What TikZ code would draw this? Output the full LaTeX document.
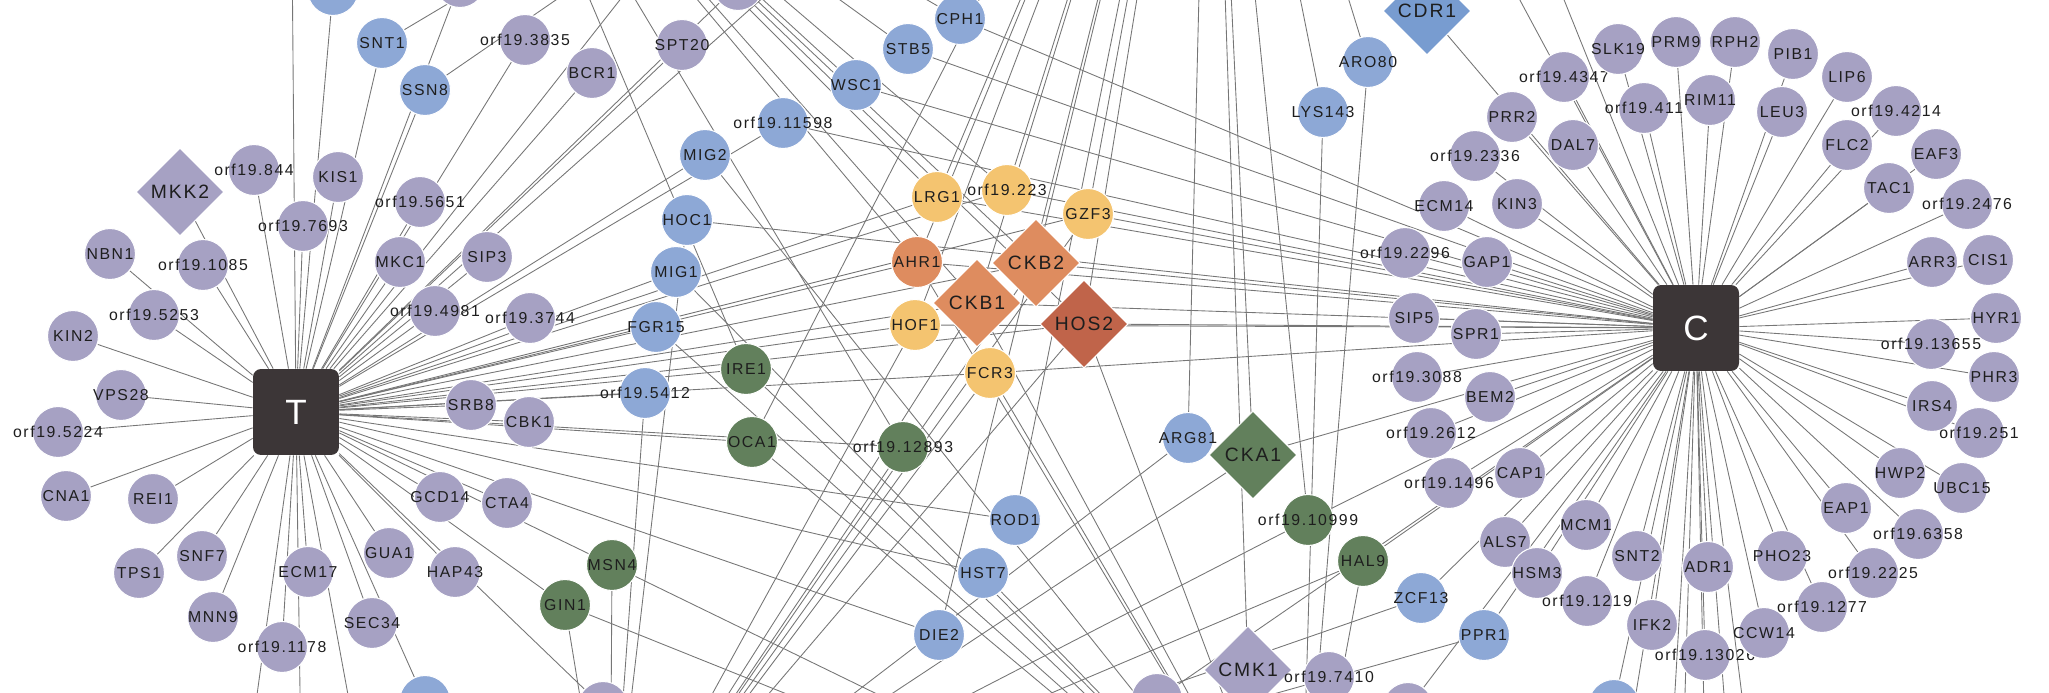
\documentclass[tikz,border=0pt]{standalone}
\usepackage{fontspec}
\usetikzlibrary{shapes.geometric}
\newfontfamily\lblfont[LetterSpace=10]{Liberation Sans}
\newfontfamily\hubfont{Liberation Sans}
\definecolor{purp}{RGB}{166,161,195}
\definecolor{bluec}{RGB}{141,168,214}
\definecolor{cdrc}{RGB}{120,156,208}
\definecolor{greenc}{RGB}{98,128,92}
\definecolor{yellowc}{RGB}{244,196,112}
\definecolor{orangec}{RGB}{222,140,95}
\definecolor{darkorc}{RGB}{192,100,74}
\definecolor{hubc}{RGB}{60,54,55}
\definecolor{linkc}{RGB}{118,118,118}
\definecolor{ink}{RGB}{30,30,30}
\pgfdeclarelayer{bg}
\pgfsetlayers{bg,main}
\newcommand{\nm}[1]{\makebox[0pt]{#1}}
\tikzset{
  gene/.style={circle,minimum size=1.02cm,inner sep=0pt,draw=white,line width=0.6pt,text=ink,font=\lblfont\fontsize{9}{10}\selectfont},
  pgene/.style={gene,fill=purp},
  bgene/.style={gene,fill=bluec},
  ggene/.style={gene,fill=greenc},
  ygene/.style={gene,fill=yellowc},
  ogene/.style={gene,fill=orangec},
  kin/.style={diamond,minimum width=1.76cm,minimum height=1.76cm,inner sep=0pt,draw=white,line width=0.6pt,text=ink,font=\lblfont\fontsize{11}{13}\selectfont},
  hub/.style={rectangle,rounded corners=0.16cm,minimum size=1.72cm,inner sep=0pt,fill=hubc,text=white,font=\hubfont\fontsize{20}{24}\selectfont},
  link/.style={draw=linkc,line width=0.5pt}
}
\begin{document}
\begin{tikzpicture}[x=0.02cm,y=-0.02cm]
\useasboundingbox (0,0) rectangle (2049,693);
\node[hub] (T) at (296,412) {T};
\node[hub] (C) at (1696,328) {C};
% T side
\node[kin,fill=purp] (MKK2) at (180,192) {\nm{MKK2}};
\node[pgene] (o844) at (254,170) {\nm{orf19.844}};
\node[pgene] (KIS1) at (338,177) {\nm{KIS1}};
\node[pgene] (o7693) at (303,226) {\nm{orf19.7693}};
\node[pgene] (o5651) at (420,202) {\nm{orf19.5651}};
\node[pgene] (NBN1) at (110,254) {\nm{NBN1}};
\node[pgene] (o1085) at (203,265) {\nm{orf19.1085}};
\node[pgene] (o5253) at (154,315) {\nm{orf19.5253}};
\node[pgene] (KIN2) at (73,336) {\nm{KIN2}};
\node[pgene] (VPS28) at (121,395) {\nm{VPS28}};
\node[pgene] (o5224) at (58,432) {\nm{orf19.5224}};
\node[pgene] (MKC1) at (400,262) {\nm{MKC1}};
\node[pgene] (SIP3) at (487,257) {\nm{SIP3}};
\node[pgene] (o4981) at (435,311) {\nm{orf19.4981}};
\node[pgene] (o3744) at (530,318) {\nm{orf19.3744}};
\node[pgene] (SRB8) at (471,405) {\nm{SRB8}};
\node[pgene] (CBK1) at (529,422) {\nm{CBK1}};
\node[pgene] (CNA1) at (66,496) {\nm{CNA1}};
\node[pgene] (REI1) at (153,499) {\nm{REI1}};
\node[pgene] (TPS1) at (139,573) {\nm{TPS1}};
\node[pgene] (SNF7) at (202,556) {\nm{SNF7}};
\node[pgene] (MNN9) at (213,617) {\nm{MNN9}};
\node[pgene] (ECM17) at (308,572) {\nm{ECM17}};
\node[pgene] (o1178) at (282,647) {\nm{orf19.1178}};
\node[pgene] (GUA1) at (389,553) {\nm{GUA1}};
\node[pgene] (SEC34) at (372,623) {\nm{SEC34}};
\node[pgene] (HAP43) at (455,572) {\nm{HAP43}};
\node[pgene] (GCD14) at (440,497) {\nm{GCD14}};
\node[pgene] (CTA4) at (507,503) {\nm{CTA4}};
\node[pgene] (o3835) at (525,40) {\nm{orf19.3835}};
\node[pgene] (BCR1) at (592,73) {\nm{BCR1}};
\node[pgene] (SPT20) at (682,45) {\nm{SPT20}};
\node[pgene] (topp1) at (460,-18) {};
\node[pgene] (topp2) at (738,-15) {};
\node[pgene] (botp1) at (603,707) {};
\node[bgene] (topb) at (333,-10) {};
\node[bgene] (SNT1) at (382,43) {\nm{SNT1}};
\node[bgene] (SSN8) at (425,90) {\nm{SSN8}};
\node[bgene] (botb1) at (425,701) {};
% middle
\node[bgene] (CPH1) at (960,19) {\nm{CPH1}};
\node[bgene] (STB5) at (908,49) {\nm{STB5}};
\node[bgene] (WSC1) at (856,85) {\nm{WSC1}};
\node[bgene] (o11598) at (783,123) {\nm{orf19.11598}};
\node[bgene] (MIG2) at (705,155) {\nm{MIG2}};
\node[bgene] (HOC1) at (687,220) {\nm{HOC1}};
\node[bgene] (MIG1) at (676,272) {\nm{MIG1}};
\node[bgene] (FGR15) at (656,327) {\nm{FGR15}};
\node[bgene] (o5412) at (645,393) {\nm{orf19.5412}};
\node[ygene] (LRG1) at (937,197) {\nm{LRG1}};
\node[ygene] (o223) at (1007,190) {\nm{orf19.223}};
\node[ygene] (GZF3) at (1088,214) {\nm{GZF3}};
\node[ogene] (AHR1) at (917,262) {\nm{AHR1}};
\node[ygene] (HOF1) at (915,325) {\nm{HOF1}};
\node[ygene] (FCR3) at (990,373) {\nm{FCR3}};
\node[kin,fill=orangec] (CKB1) at (977,303) {\nm{CKB1}};
\node[kin,fill=orangec] (CKB2) at (1036,263) {\nm{CKB2}};
\node[kin,fill=darkorc] (HOS2) at (1084,324) {\nm{HOS2}};
\node[ggene] (IRE1) at (746,369) {\nm{IRE1}};
\node[ggene] (OCA1) at (752,442) {\nm{OCA1}};
\node[ggene] (o12893) at (903,447) {\nm{orf19.12893}};
\node[ggene] (MSN4) at (612,565) {\nm{MSN4}};
\node[ggene] (GIN1) at (565,605) {\nm{GIN1}};
\node[bgene] (ROD1) at (1015,520) {\nm{ROD1}};
\node[bgene] (HST7) at (983,573) {\nm{HST7}};
\node[bgene] (DIE2) at (939,635) {\nm{DIE2}};
\node[bgene] (ARG81) at (1188,438) {\nm{ARG81}};
\node[kin,fill=greenc] (CKA1) at (1253,455) {\nm{CKA1}};
\node[ggene] (o10999) at (1308,520) {\nm{orf19.10999}};
\node[ggene] (HAL9) at (1363,561) {\nm{HAL9}};
\node[kin,fill=purp] (CMK1) at (1248,670) {\nm{CMK1}};
\node[pgene] (o7410) at (1329,677) {\nm{orf19.7410}};
\node[pgene] (botp2) at (1157,699) {};
\node[pgene] (botp3) at (1408,708) {};
\node[bgene] (LYS143) at (1323,112) {\nm{LYS143}};
\node[bgene] (ARO80) at (1368,62) {\nm{ARO80}};
\node[kin,fill=cdrc] (CDR1) at (1427,11) {\nm{CDR1}};
\node[bgene] (ZCF13) at (1421,598) {\nm{ZCF13}};
\node[bgene] (PPR1) at (1484,635) {\nm{PPR1}};
\node[bgene] (botb2) at (1614,705) {};
% C side
\node[pgene] (o4347) at (1564,77) {\nm{orf19.4347}};
\node[pgene] (SLK19) at (1618,49) {\nm{SLK19}};
\node[pgene] (PRM9) at (1676,42) {\nm{PRM9}};
\node[pgene] (RPH2) at (1735,42) {\nm{RPH2}};
\node[pgene] (PIB1) at (1793,54) {\nm{PIB1}};
\node[pgene] (LIP6) at (1847,77) {\nm{LIP6}};
\node[pgene] (PRR2) at (1512,117) {\nm{PRR2}};
\node[pgene] (o411) at (1644,108) {\nm{orf19.411}};
\node[pgene] (RIM11) at (1710,100) {\nm{RIM11}};
\node[pgene] (LEU3) at (1782,112) {\nm{LEU3}};
\node[pgene] (o4214) at (1896,111) {\nm{orf19.4214}};
\node[pgene] (o2336) at (1475,156) {\nm{orf19.2336}};
\node[pgene] (DAL7) at (1573,145) {\nm{DAL7}};
\node[pgene] (FLC2) at (1847,145) {\nm{FLC2}};
\node[pgene] (EAF3) at (1936,154) {\nm{EAF3}};
\node[pgene] (ECM14) at (1444,206) {\nm{ECM14}};
\node[pgene] (KIN3) at (1517,204) {\nm{KIN3}};
\node[pgene] (TAC1) at (1889,188) {\nm{TAC1}};
\node[pgene] (o2476) at (1967,204) {\nm{orf19.2476}};
\node[pgene] (o2296) at (1405,253) {\nm{orf19.2296}};
\node[pgene] (GAP1) at (1487,262) {\nm{GAP1}};
\node[pgene] (ARR3) at (1932,262) {\nm{ARR3}};
\node[pgene] (CIS1) at (1988,260) {\nm{CIS1}};
\node[pgene] (SIP5) at (1414,318) {\nm{SIP5}};
\node[pgene] (SPR1) at (1476,334) {\nm{SPR1}};
\node[pgene] (HYR1) at (1996,318) {\nm{HYR1}};
\node[pgene] (o13655) at (1931,344) {\nm{orf19.13655}};
\node[pgene] (o3088) at (1417,377) {\nm{orf19.3088}};
\node[pgene] (BEM2) at (1490,397) {\nm{BEM2}};
\node[pgene] (PHR3) at (1994,377) {\nm{PHR3}};
\node[pgene] (IRS4) at (1932,406) {\nm{IRS4}};
\node[pgene] (o2612) at (1431,433) {\nm{orf19.2612}};
\node[pgene] (o251) at (1979,433) {\nm{orf19.251}};
\node[pgene] (o1496) at (1449,483) {\nm{orf19.1496}};
\node[pgene] (CAP1) at (1520,473) {\nm{CAP1}};
\node[pgene] (HWP2) at (1900,473) {\nm{HWP2}};
\node[pgene] (UBC15) at (1962,488) {\nm{UBC15}};
\node[pgene] (ALS7) at (1505,542) {\nm{ALS7}};
\node[pgene] (HSM3) at (1537,573) {\nm{HSM3}};
\node[pgene] (MCM1) at (1586,525) {\nm{MCM1}};
\node[pgene] (SNT2) at (1637,556) {\nm{SNT2}};
\node[pgene] (ADR1) at (1708,567) {\nm{ADR1}};
\node[pgene] (PHO23) at (1782,556) {\nm{PHO23}};
\node[pgene] (EAP1) at (1846,508) {\nm{EAP1}};
\node[pgene] (o6358) at (1918,534) {\nm{orf19.6358}};
\node[pgene] (o2225) at (1873,573) {\nm{orf19.2225}};
\node[pgene] (o1219) at (1587,601) {\nm{orf19.1219}};
\node[pgene] (IFK2) at (1652,625) {\nm{IFK2}};
\node[pgene] (o13026) at (1705,655) {\nm{orf19.13026}};
\node[pgene] (CCW14) at (1764,633) {\nm{CCW14}};
\node[pgene] (o1277) at (1822,607) {\nm{orf19.1277}};
% ends outside the frame
\coordinate (hA) at (480,-260);
\coordinate (hB) at (1210,-450);
\coordinate (hC) at (610,880);
\coordinate (hD) at (1300,900);
\coordinate (tup) at (292,-60);
\coordinate (tup2) at (667,-60);
\coordinate (tup3) at (828,-60);
\coordinate (tdn1) at (248,760);
\coordinate (tdn2) at (301,760);
\coordinate (tdn3) at (360,760);
\coordinate (cup1) at (1493,-50);
\coordinate (cup2) at (1544,-50);
\coordinate (cdn1) at (1625,760);
\coordinate (cdn2) at (1671,760);
\coordinate (cdn3) at (1683,760);
\coordinate (cdn4) at (1705,760);
\coordinate (cdn5) at (1729,760);
\coordinate (cdn6) at (1750,760);
\begin{pgfonlayer}{bg}
\begin{scope}
\clip (0,0) rectangle (2049,693);
\foreach \n in {MKK2,o844,KIS1,o7693,o5651,NBN1,o1085,o5253,KIN2,VPS28,o5224,MKC1,SIP3,o4981,o3744,SRB8,CBK1,CNA1,REI1,TPS1,SNF7,MNN9,ECM17,o1178,GUA1,SEC34,HAP43,GCD14,CTA4,o3835,BCR1,SPT20,topp1,topp2,botp1,topb,SNT1,SSN8,botb1,tup,tup2,tup3,tdn1,tdn2,tdn3,o11598,MIG2,MIG1,FGR15,o5412,IRE1,OCA1,o12893,LRG1,o223,GZF3,AHR1,CKB1,CKB2,HOS2,HOF1,FCR3,MSN4,GIN1,ROD1,HST7,DIE2}
  \draw[link] (T) -- (\n);
\foreach \n in {o4347,SLK19,PRM9,RPH2,PIB1,LIP6,PRR2,o411,RIM11,LEU3,o4214,o2336,DAL7,FLC2,EAF3,ECM14,KIN3,TAC1,o2476,o2296,GAP1,ARR3,CIS1,SIP5,SPR1,HYR1,o13655,o3088,BEM2,PHR3,IRS4,o2612,o251,o1496,CAP1,HWP2,UBC15,ALS7,HSM3,MCM1,SNT2,ADR1,PHO23,EAP1,o6358,o2225,o1219,IFK2,o13026,CCW14,o1277,cup1,cup2,cdn1,cdn2,cdn3,cdn4,cdn5,cdn6,botb2,botp2,botp3,CDR1,CPH1,STB5,WSC1,o11598,HOC1,LRG1,o223,GZF3,AHR1,CKB1,CKB2,HOS2,HOF1,FCR3,CKA1,o10999,HAL9,ZCF13,PPR1}
  \draw[link] (C) -- (\n);
\foreach \n in {CPH1,STB5,WSC1,LRG1,o223,AHR1,CKB1,CKB2,HOS2,IRE1,o12893}
  \draw[link] (hA) -- (\n);
\foreach \n in {SNT1,SSN8,LRG1,o223,GZF3,HOF1,AHR1,CKB1,CKB2,HOS2,OCA1,ROD1,DIE2,ARG81,LYS143,ARO80,CDR1,CKA1,o10999,CMK1}
  \draw[link] (hB) -- (\n);
\foreach \n in {HOC1,o5412,GZF3,HOF1,FCR3,CKB1,CKB2,HOS2,o12893,MSN4,GIN1,ARG81,CKA1,o10999,HAL9,ZCF13,PPR1}
  \draw[link] (hC) -- (\n);
\foreach \n in {MIG2,MIG1,FGR15,HST7,FCR3,AHR1,CKB1,HOS2,IRE1,OCA1,MSN4,GIN1,LYS143,ARO80,HAL9,o7410}
  \draw[link] (hD) -- (\n);
\end{scope}
\end{pgfonlayer}
\end{tikzpicture}
\end{document}
